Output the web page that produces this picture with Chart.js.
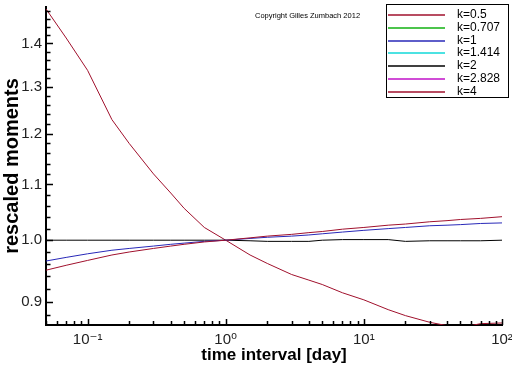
<!DOCTYPE html>
<html>
<head>
<meta charset="utf-8">
<script src="https://cdn.jsdelivr.net/npm/chart.js@4"></script>
<style>
  html, body { margin: 0; padding: 0; background: #fff; }
  #wrap { width: 512px; height: 366px; }
</style>
</head>
<body>
<div id="wrap"><canvas id="chart"></canvas></div>
<script>
// time interval in days (x axis, log)
const xDays = [0.05, 0.07, 0.1, 0.15, 0.2, 0.3, 0.4, 0.5, 0.7, 1, 1.5, 2, 3, 4, 5, 7, 10, 15, 20, 30, 40, 50, 70, 100];

// rescaled moments per order k (curves that are visible in the picture)
const k05 = [0.950, 0.958, 0.966, 0.975, 0.980, 0.986, 0.990, 0.993, 0.997, 1.000, 1.004, 1.007, 1.010, 1.013, 1.015, 1.019, 1.022, 1.026, 1.028, 1.032, 1.034, 1.036, 1.038, 1.041];
const k0707 = [];
const k1 = [0.965, 0.971, 0.977, 0.983, 0.986, 0.990, 0.993, 0.995, 0.998, 1.000, 1.003, 1.005, 1.007, 1.009, 1.011, 1.014, 1.017, 1.020, 1.022, 1.025, 1.026, 1.027, 1.029, 1.030];
const k1414 = [];
const k2 = [1.000, 1.000, 1.000, 1.000, 1.000, 1.000, 1.000, 1.000, 1.000, 1.000, 0.999, 0.998, 0.998, 0.998, 1.000, 1.001, 1.001, 1.001, 0.998, 0.999, 0.999, 0.999, 0.999, 1.000];
const k2828 = [];
const k4 = [1.485, 1.413, 1.337, 1.229, 1.180, 1.120, 1.084, 1.056, 1.022, 1.000, 0.975, 0.961, 0.943, 0.934, 0.927, 0.914, 0.903, 0.888, 0.879, 0.869, 0.864, 0.861, 0.867, 0.868];

const seriesLabels = ["k=0.5", "k=0.707", "k=1", "k=1.414", "k=2", "k=2.828", "k=4"];
const seriesValues = [k05, k0707, k1, k1414, k2, k2828, k4];
const seriesColors = ["#a0102c", "#10b010", "#2828b8", "#10d8d8", "#000000", "#c010c8", "#a0102c"];

const yTickLabels = [0.9, 1.0, 1.1, 1.2, 1.3, 1.4];
const xDecades = [0.1, 1, 10, 100];
const xTickLabels = ["10\u207B\u00B9", "10\u2070", "10\u00B9", "10\u00B2"];

const xMin = 0.05, xMax = 100;
const yMin = 0.865, yMax = 1.49;

function yTicks() {
  let out = [];
  for (let v = 0.88; v <= 1.481; v += 0.02) {
    let r = Math.round(v * 100) / 100;
    out.push({ value: r, major: yTickLabels.some(t => Math.abs(t - r) < 1e-6) });
  }
  return out;
}

function xTicks() {
  let out = [];
  [0.01, 0.1, 1, 10, 100].forEach(d => {
    for (let m = 1; m <= 9; m++) {
      let v = m * d;
      if (v >= xMin - 1e-9 && v <= xMax + 1e-9) {
        out.push({ value: v, major: xDecades.some(t => Math.abs(t - v) < 1e-9) });
      }
    }
  });
  return out;
}

// inward tick marks
const innerTicks = {
  id: "innerTicks",
  afterDraw(chart) {
    const ctx = chart.ctx;
    const xs = chart.scales.x, ys = chart.scales.y;
    const area = chart.chartArea;
    ctx.save();
    ctx.strokeStyle = "#000";
    ctx.lineWidth = 1.5;
    ctx.beginPath();
    ys.ticks.forEach(t => {
      let p = Math.round(ys.getPixelForValue(t.value)) + 0.5;
      ctx.moveTo(area.left, p);
      ctx.lineTo(area.left + (t.major ? 7 : 4.5), p);
    });
    xs.ticks.forEach(t => {
      let p = Math.round(xs.getPixelForValue(t.value)) + 0.5;
      ctx.moveTo(p, area.bottom);
      ctx.lineTo(p, area.bottom - (t.major ? 6 : 4));
    });
    ctx.stroke();
    ctx.restore();
  }
};

// boxed legend in the top right corner + copyright note
const boxLegend = {
  id: "boxLegend",
  afterDraw(chart) {
    const ctx = chart.ctx;
    const left = chart.width - 126, top = 4, w = 122, h = 93;
    ctx.save();
    ctx.fillStyle = "#fff";
    ctx.fillRect(left, top, w, h);
    ctx.strokeStyle = "#000";
    ctx.lineWidth = 1;
    ctx.strokeRect(left + 0.5, top + 0.5, w, h);
    ctx.font = "12px 'Liberation Sans', Arial, sans-serif";
    ctx.textBaseline = "middle";
    chart.data.datasets.forEach((ds, i) => {
      let y = Math.round(top + 11 + i * 12.8);
      ctx.strokeStyle = ds.borderColor;
      ctx.lineWidth = 1.6;
      ctx.beginPath();
      ctx.moveTo(left + 2, y);
      ctx.lineTo(left + 59, y);
      ctx.stroke();
      ctx.fillStyle = "#000";
      ctx.fillText(ds.label, left + 71, y);
    });
    ctx.font = "7.5px 'Liberation Sans', Arial, sans-serif";
    ctx.fillText("Copyright Gilles Zumbach 2012", left - 131, 16);
    ctx.restore();
  }
};

new Chart(document.getElementById("chart"), {
  type: "line",
  data: {
    datasets: seriesLabels.map((lab, i) => ({
      label: lab,
      data: seriesValues[i].map((v, j) => ({ x: xDays[j], y: v })),
      borderColor: seriesColors[i],
      backgroundColor: seriesColors[i],
      borderWidth: 1,
      pointRadius: 0,
      tension: 0,
      fill: false
    }))
  },
  options: {
    responsive: true,
    maintainAspectRatio: false,
    animation: false,
    events: [],
    layout: { padding: { top: 7, right: 10, left: 0, bottom: 0 } },
    plugins: {
      legend: { display: false },
      tooltip: { enabled: false }
    },
    scales: {
      x: {
        type: "logarithmic",
        min: xMin,
        max: xMax,
        grid: { display: false, drawTicks: false },
        border: { display: true, color: "#000", width: 2 },
        afterBuildTicks: s => { s.ticks = xTicks(); },
        afterFit: s => { s.height = 41; s.paddingLeft = 0; s.paddingRight = 0; },
        ticks: {
          autoSkip: false,
          maxRotation: 0,
          padding: 6,
          color: "#222",
          font: { family: "'Liberation Sans', 'DejaVu Sans', sans-serif", size: 15 },
          callback: (v, i, t) => {
            let k = xDecades.findIndex(d => Math.abs(d - t[i].value) < 1e-9);
            return k >= 0 ? xTickLabels[k] : "";
          }
        },
        title: {
          display: true,
          text: "time interval [day]",
          color: "#000",
          padding: 0,
          font: { family: "'Liberation Sans', Arial, sans-serif", size: 17, weight: "bold" }
        }
      },
      y: {
        type: "logarithmic",
        min: yMin,
        max: yMax,
        grid: { display: false, drawTicks: false },
        border: { display: true, color: "#000", width: 2 },
        afterBuildTicks: s => { s.ticks = yTicks(); },
        afterFit: s => { s.width = 46; s.paddingTop = 0; s.paddingBottom = 0; },
        ticks: {
          autoSkip: false,
          padding: 4,
          color: "#222",
          font: { family: "'Liberation Sans', Arial, sans-serif", size: 15 },
          callback: (v, i, t) => t[i].major ? t[i].value.toFixed(1) : ""
        },
        title: {
          display: true,
          text: "rescaled moments",
          color: "#000",
          padding: { top: 0 },
          font: { family: "'Liberation Sans', Arial, sans-serif", size: 20, weight: "bold" }
        }
      }
    }
  },
  plugins: [innerTicks, boxLegend]
});
</script>
</body>
</html>
